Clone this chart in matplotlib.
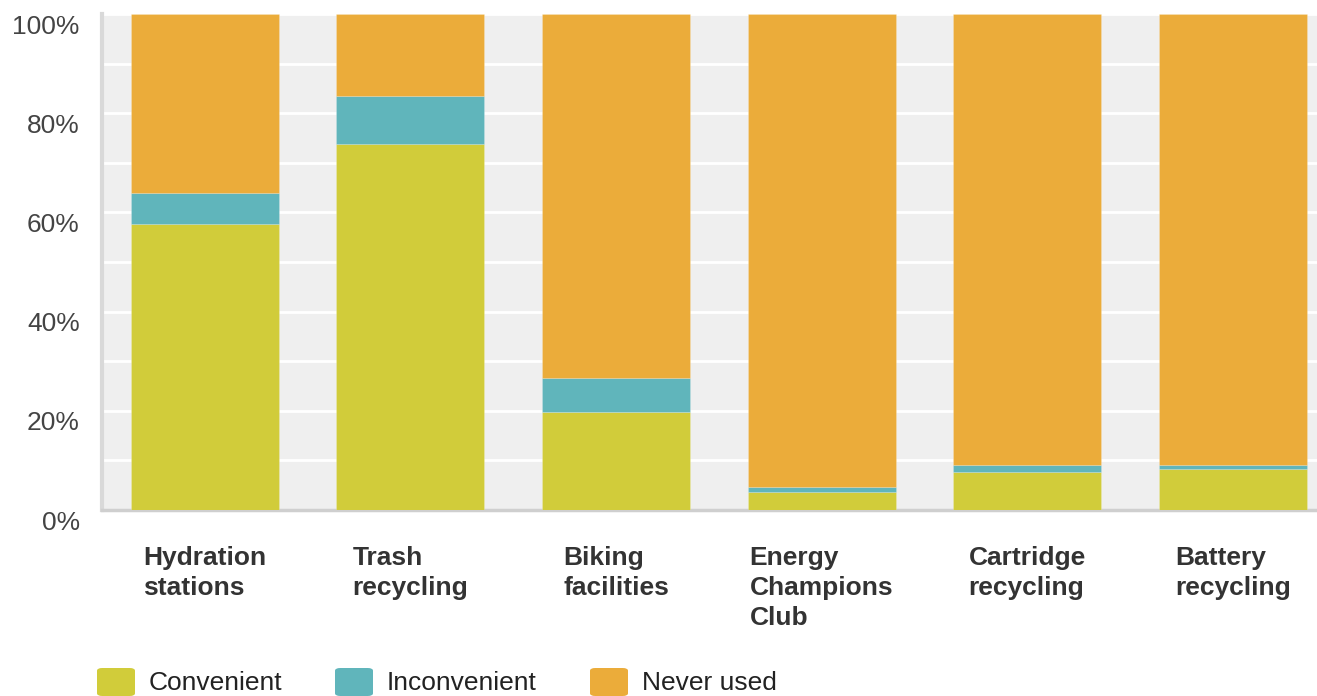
import matplotlib.pyplot as plt
from matplotlib.patches import FancyBboxPatch
from matplotlib.transforms import ScaledTranslation

plt.rcParams['font.family'] = ['Liberation Sans', 'DejaVu Sans']

# data (percent of respondents)
categories = ["Hydration\nstations", "Trash\nrecycling", "Biking\nfacilities",
              "Energy\nChampions\nClub", "Cartridge\nrecycling", "Battery\nrecycling"]
convenient = [57.7, 73.7, 19.8, 3.7, 7.7, 8.2]
inconvenient = [6.3, 9.8, 6.8, 0.9, 1.4, 0.9]
never_used = [100 - c - i for c, i in zip(convenient, inconvenient)]
series_names = ["Convenient", "Inconvenient", "Never used"]
colors = ["#d1cc3a", "#60b5bb", "#ebac3a"]

fig = plt.figure(figsize=(13.17, 6.96), dpi=100)
ax = fig.add_axes([102 / 1317, 186 / 696, 1 - 102 / 1317, 496 / 696])
ax.set_facecolor("#efefef")

x = range(len(categories))
bottom = [0] * len(categories)
for vals, col in zip([convenient, inconvenient, never_used], colors):
    ax.bar(x, vals, bottom=bottom, width=0.72, color=col, zorder=3,
           edgecolor=(1, 1, 1, 0.2), linewidth=0.6)
    bottom = [b + v for b, v in zip(bottom, vals)]

ax.set_xlim(-0.5, 5.41)
ax.set_ylim(0, 100)

ax.set_yticks(range(0, 101, 20))
ax.set_yticks(range(10, 100, 20), minor=True)
ax.set_yticklabels([f"{v}%" for v in range(0, 101, 20)])
ax.grid(axis='y', which='both', color='white', linewidth=2, zorder=1)
ax.tick_params(axis='y', which='both', length=0, pad=16, labelsize=19, labelcolor='#444444')
for lab in ax.get_yticklabels():
    lab.set_transform(lab.get_transform() + ScaledTranslation(0, -0.10, fig.dpi_scale_trans))

ax.set_xticks(list(x))
ax.set_xticklabels(categories, fontweight='bold')
ax.tick_params(axis='x', length=0, pad=26, labelsize=19, labelcolor='#333333')
for lab in ax.get_xticklabels():
    lab.set_multialignment('left')
    lab.set_linespacing(1.3)

for s in ['top', 'right']:
    ax.spines[s].set_visible(False)
ax.spines['left'].set_color('#d9d9d9')
ax.spines['left'].set_linewidth(3)
ax.spines['bottom'].set_color('#cfcfcf')
ax.spines['bottom'].set_linewidth(2.5)

# legend
leg_x = [97, 335, 590]
for lx, name, col in zip(leg_x, series_names, colors):
    fig.patches.append(FancyBboxPatch(
        (lx / 1317, 0 / 696), 38 / 1317, 28 / 696,
        boxstyle="round,pad=0,rounding_size=0.004", transform=fig.transFigure,
        facecolor=col, edgecolor='none'))
    fig.text((lx + 52) / 1317, 13 / 696, name, fontsize=19, color='#222222', va='center')

fig.savefig("out.png", dpi=100)
